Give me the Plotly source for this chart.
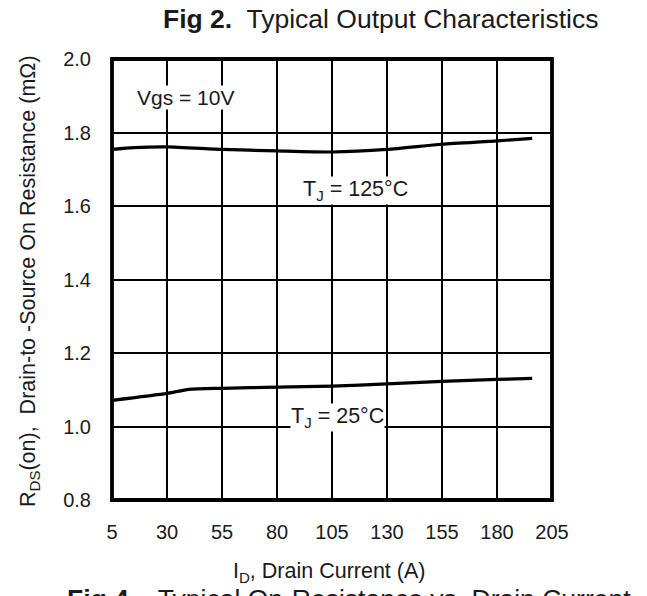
import plotly.graph_objects as go

# ---- data ----
id_125 = [5, 15, 30, 55, 80, 105, 130, 155, 180, 196]
r_125 = [1.754, 1.759, 1.761, 1.754, 1.750, 1.747, 1.754, 1.768, 1.777, 1.784]

id_25 = [5, 30, 40, 55, 80, 105, 130, 155, 180, 196]
r_25 = [1.071, 1.090, 1.101, 1.104, 1.107, 1.110, 1.116, 1.123, 1.128, 1.131]

x_ticks = [5, 30, 55, 80, 105, 130, 155, 180, 205]
y_ticks = [0.8, 1.0, 1.2, 1.4, 1.6, 1.8, 2.0]
y_tick_text = ["0.8", "1.0", "1.2", "1.4", "1.6", "1.8", "2.0"]

FONT = "Liberation Sans, Arial, Helvetica, sans-serif"
INK = "#1a1a1a"

fig = go.Figure()
for xs, ys in [(id_125, r_125), (id_25, r_25)]:
    fig.add_trace(go.Scatter(x=xs, y=ys, mode="lines",
                             line=dict(color="black", width=3.2, shape="spline", smoothing=0.6),
                             showlegend=False, hoverinfo="skip"))

# page body has an 8px margin, so the figure is sized/offset to compensate
fig.update_layout(
    width=639, height=588,
    margin=dict(l=104, r=95, t=51, b=96),
    paper_bgcolor="white", plot_bgcolor="white",
    font=dict(family=FONT, color=INK, size=20),
    showlegend=False,
)
fig.update_xaxes(range=[5, 205], tickvals=x_ticks, ticktext=[str(v) for v in x_ticks],
                 showgrid=True, gridcolor="black", gridwidth=2.2, zeroline=False,
                 showline=False, ticks="", ticklabelstandoff=18,
                 tickfont=dict(size=20, family=FONT, color=INK), fixedrange=True)
fig.update_yaxes(range=[0.8, 2.0], tickvals=y_ticks, ticktext=y_tick_text,
                 showgrid=True, gridcolor="black", gridwidth=2.2, zeroline=False,
                 showline=False, ticks="", ticklabelstandoff=20,
                 tickfont=dict(size=20, family=FONT, color=INK), fixedrange=True)

# thick frame
fig.add_shape(type="rect", xref="paper", yref="paper", x0=0, y0=0, x1=1, y1=1,
              line=dict(color="black", width=3.8), layer="above")

# in-plot labels with white boxes hiding the grid
fig.add_annotation(x=38.4, y=1.895, text="Vgs = 10V", showarrow=False,
                   bgcolor="white", borderpad=0, font=dict(size=21, family=FONT, color=INK))
fig.add_annotation(x=115.5, y=1.6, yanchor="bottom", yshift=1,
                   text="T<sub>J</sub> = 125°C", showarrow=False,
                   bgcolor="white", borderpad=0, font=dict(size=21.5, family=FONT, color=INK))
fig.add_annotation(x=107.3, y=1.024, text="T<sub>J</sub> = 25°C", showarrow=False,
                   bgcolor="white", borderpad=0, font=dict(size=21.5, family=FONT, color=INK))

# titles
fig.add_annotation(xref="paper", yref="paper", x=0.611, y=1.0907, yanchor="middle",
                   text="<b>Fig 2.</b>  Typical Output Characteristics", showarrow=False,
                   font=dict(size=26.5, family=FONT, color=INK))
fig.add_annotation(xref="paper", yref="paper", x=0.493, y=-0.165, yanchor="middle",
                   text="I<sub>D</sub>, Drain Current (A)", showarrow=False,
                   font=dict(size=21.5, family=FONT, color=INK))
fig.add_annotation(xref="paper", yref="paper", x=-0.186, y=0.497, textangle=-90,
                   xanchor="center", yanchor="middle",
                   text="R<sub>DS</sub>(on),  Drain-to -Source On Resistance (mΩ)", showarrow=False,
                   font=dict(size=21.5, family=FONT, color=INK))
fig.add_annotation(xref="paper", yref="paper", x=-0.106, y=-0.186, xanchor="left", yanchor="top",
                   text="<b>Fig 4.</b>   Typical On-Resistance vs. Drain Current", showarrow=False,
                   font=dict(size=26.5, family=FONT, color=INK))

fig.write_html("out.html")
